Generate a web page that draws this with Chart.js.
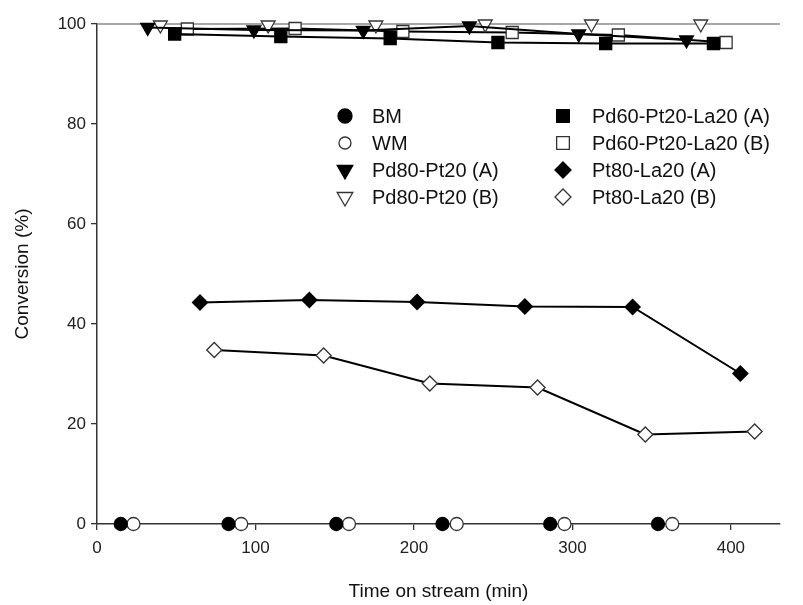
<!DOCTYPE html>
<html>
<head>
<meta charset="utf-8">
<script src="https://cdn.jsdelivr.net/npm/chart.js@4/dist/chart.umd.min.js"></script>
<style>
html,body{margin:0;padding:0;background:#fff;}
#wrap{width:803px;height:605px;position:relative;}
</style>
</head>
<body>
<div id="wrap"><canvas id="c" width="803" height="605"></canvas></div>
<script>
// ---- data ----
const bmTime = [15, 83, 151, 218, 286, 354];
const bmConv = [0, 0, 0, 0, 0, 0];
const wmTime = [23, 91, 159, 227, 295, 363];
const wmConv = [0, 0, 0, 0, 0, 0];
const pd80ATime = [32, 99, 168, 235, 304, 372];
const pd80AConv = [99.3, 98.8, 98.7, 99.6, 98.0, 96.8];
const pd80BTime = [40, 108, 176, 245, 312, 381];
const pd80BConv = [99.8, 99.8, 99.8, 100, 100, 100];
const pd60ATime = [49, 116, 185, 253, 321, 389];
const pd60AConv = [98.0, 97.5, 97.1, 96.3, 96.1, 96.1];
const pd60BTime = [57, 125, 193, 262, 329, 397];
const pd60BConv = [99.0, 99.1, 98.5, 98.3, 97.8, 96.3];
const pt80ATime = [65, 134, 202, 270, 338, 406];
const pt80AConv = [44.3, 44.8, 44.4, 43.5, 43.4, 30.1];
const pt80BTime = [74, 143, 210, 278, 346, 415];
const pt80BConv = [34.8, 33.7, 28.1, 27.3, 17.9, 18.5];
const seriesLabels = ['BM', 'WM', 'Pd80-Pt20 (A)', 'Pd80-Pt20 (B)',
  'Pd60-Pt20-La20 (A)', 'Pd60-Pt20-La20 (B)', 'Pt80-La20 (A)', 'Pt80-La20 (B)'];
const xTickValues = [0, 100, 200, 300, 400];
const yTickValues = [0, 20, 40, 60, 80, 100];

const FONT = "'Liberation Sans', Arial, sans-serif";
const pts = (xs, ys) => xs.map((x, i) => ({x: x, y: ys[i]}));

function ds(label, xs, ys, style, filled, radius, rotation, line) {
  return {
    label: label,
    data: pts(xs, ys),
    showLine: line,
    borderColor: '#000',
    borderWidth: 2,
    pointStyle: style,
    pointRadius: radius,
    pointRotation: rotation || 0,
    pointBackgroundColor: filled ? '#000' : '#fff',
    pointBorderColor: filled ? '#000' : '#333',
    pointBorderWidth: 1.3,
    pointHoverRadius: radius,
    clip: false,
    _filled: filled
  };
}

const datasets = [
  ds(seriesLabels[0], bmTime, bmConv, 'circle', true, 6.5, 0, false),
  ds(seriesLabels[1], wmTime, wmConv, 'circle', false, 6.5, 0, false),
  ds(seriesLabels[2], pd80ATime, pd80AConv, 'triangle', true, 8, 180, true),
  ds(seriesLabels[3], pd80BTime, pd80BConv, 'triangle', false, 8, 180, false),
  ds(seriesLabels[4], pd60ATime, pd60AConv, 'rect', true, 8.5, 0, true),
  ds(seriesLabels[5], pd60BTime, pd60BConv, 'rect', false, 8.5, 0, true),
  ds(seriesLabels[6], pt80ATime, pt80AConv, 'rectRot', true, 7.5, 0, true),
  ds(seriesLabels[7], pt80BTime, pt80BConv, 'rectRot', false, 7.5, 0, true)
];

function drawMarker(ctx, style, x, y, r, rot, filled) {
  ctx.save();
  ctx.translate(x, y);
  ctx.beginPath();
  if (style === 'circle') {
    ctx.arc(0, 0, r, 0, Math.PI * 2);
  } else if (style === 'triangle') {
    const s = rot === 180 ? -1 : 1;
    ctx.moveTo(0, -r * s);
    ctx.lineTo(r * 0.866, r * 0.5 * s);
    ctx.lineTo(-r * 0.866, r * 0.5 * s);
    ctx.closePath();
  } else if (style === 'rect') {
    const h = r * Math.SQRT1_2;
    ctx.rect(-h, -h, 2 * h, 2 * h);
  } else if (style === 'rectRot') {
    ctx.moveTo(0, -r); ctx.lineTo(r, 0); ctx.lineTo(0, r); ctx.lineTo(-r, 0);
    ctx.closePath();
  }
  ctx.fillStyle = filled ? '#000' : '#fff';
  ctx.fill();
  ctx.lineWidth = 1.3;
  ctx.strokeStyle = filled ? '#000' : '#333';
  ctx.stroke();
  ctx.restore();
}

const legendPlugin = {
  id: 'colLegend',
  afterDraw(chart, args, opts) {
    const ctx = chart.ctx;
    ctx.save();
    ctx.font = opts.fontSize + 'px ' + FONT;
    ctx.textBaseline = 'middle';
    ctx.textAlign = 'left';
    chart.data.datasets.forEach((d, i) => {
      const col = i < 4 ? 0 : 1;
      const row = i % 4;
      const y = opts.rowY[row];
      drawMarker(ctx, d.pointStyle, opts.markerX[col], y, opts.markerR[i], d.pointRotation, d._filled);
      ctx.fillStyle = '#111';
      ctx.fillText(d.label, opts.textX[col], y + 1);
    });
    ctx.restore();
  }
};

const topLinePlugin = {
  id: 'topLine',
  beforeDatasetsDraw(chart) {
    const {ctx, chartArea} = chart;
    ctx.save();
    ctx.strokeStyle = '#8a8a8a';
    ctx.lineWidth = 1.5;
    ctx.beginPath();
    ctx.moveTo(chartArea.left, chartArea.top);
    ctx.lineTo(chartArea.right, chartArea.top);
    ctx.stroke();
    ctx.restore();
  }
};

new Chart(document.getElementById('c'), {
  type: 'scatter',
  data: {datasets: datasets},
  plugins: [topLinePlugin, legendPlugin],
  options: {
    responsive: false,
    animation: false,
    events: [],
    layout: {padding: {top: 24, right: 23, left: 0, bottom: 0}},
    plugins: {
      legend: {display: false},
      tooltip: {enabled: false},
      colLegend: {
        fontSize: 20,
        markerX: [345, 563],
        textX: [372, 592],
        rowY: [116, 143, 170, 197],
        markerR: [7, 6, 9, 9, 9, 9, 8, 8]
      }
    },
    scales: {
      x: {
        type: 'linear',
        min: 0,
        max: 431,
        afterBuildTicks(scale) { scale.ticks = xTickValues.map(v => ({value: v})); },
        afterFit(scale) { scale.height = 81; },
        ticks: {color: '#222', font: {family: FONT, size: 17}, padding: 8, includeBounds: false},
        grid: {display: true, drawOnChartArea: false, drawTicks: true, tickLength: 6, color: '#333', lineWidth: 1.3},
        border: {display: true, color: '#333', width: 1.5},
        title: {display: true, text: 'Time on stream (min)', color: '#111', font: {family: FONT, size: 19}, padding: {top: 0, bottom: 2}}
      },
      y: {
        type: 'linear',
        min: 0,
        max: 100,
        afterBuildTicks(scale) { scale.ticks = yTickValues.map(v => ({value: v})); },
        afterFit(scale) { scale.width = 97; },
        ticks: {color: '#222', font: {family: FONT, size: 17}, padding: 5},
        grid: {display: true, drawOnChartArea: false, drawTicks: true, tickLength: 6, color: '#333', lineWidth: 1.3},
        border: {display: true, color: '#333', width: 1.5},
        title: {display: true, text: 'Conversion (%)', color: '#111', font: {family: FONT, size: 19}, padding: {top: 11, bottom: 0}}
      }
    }
  }
});
</script>
</body>
</html>
